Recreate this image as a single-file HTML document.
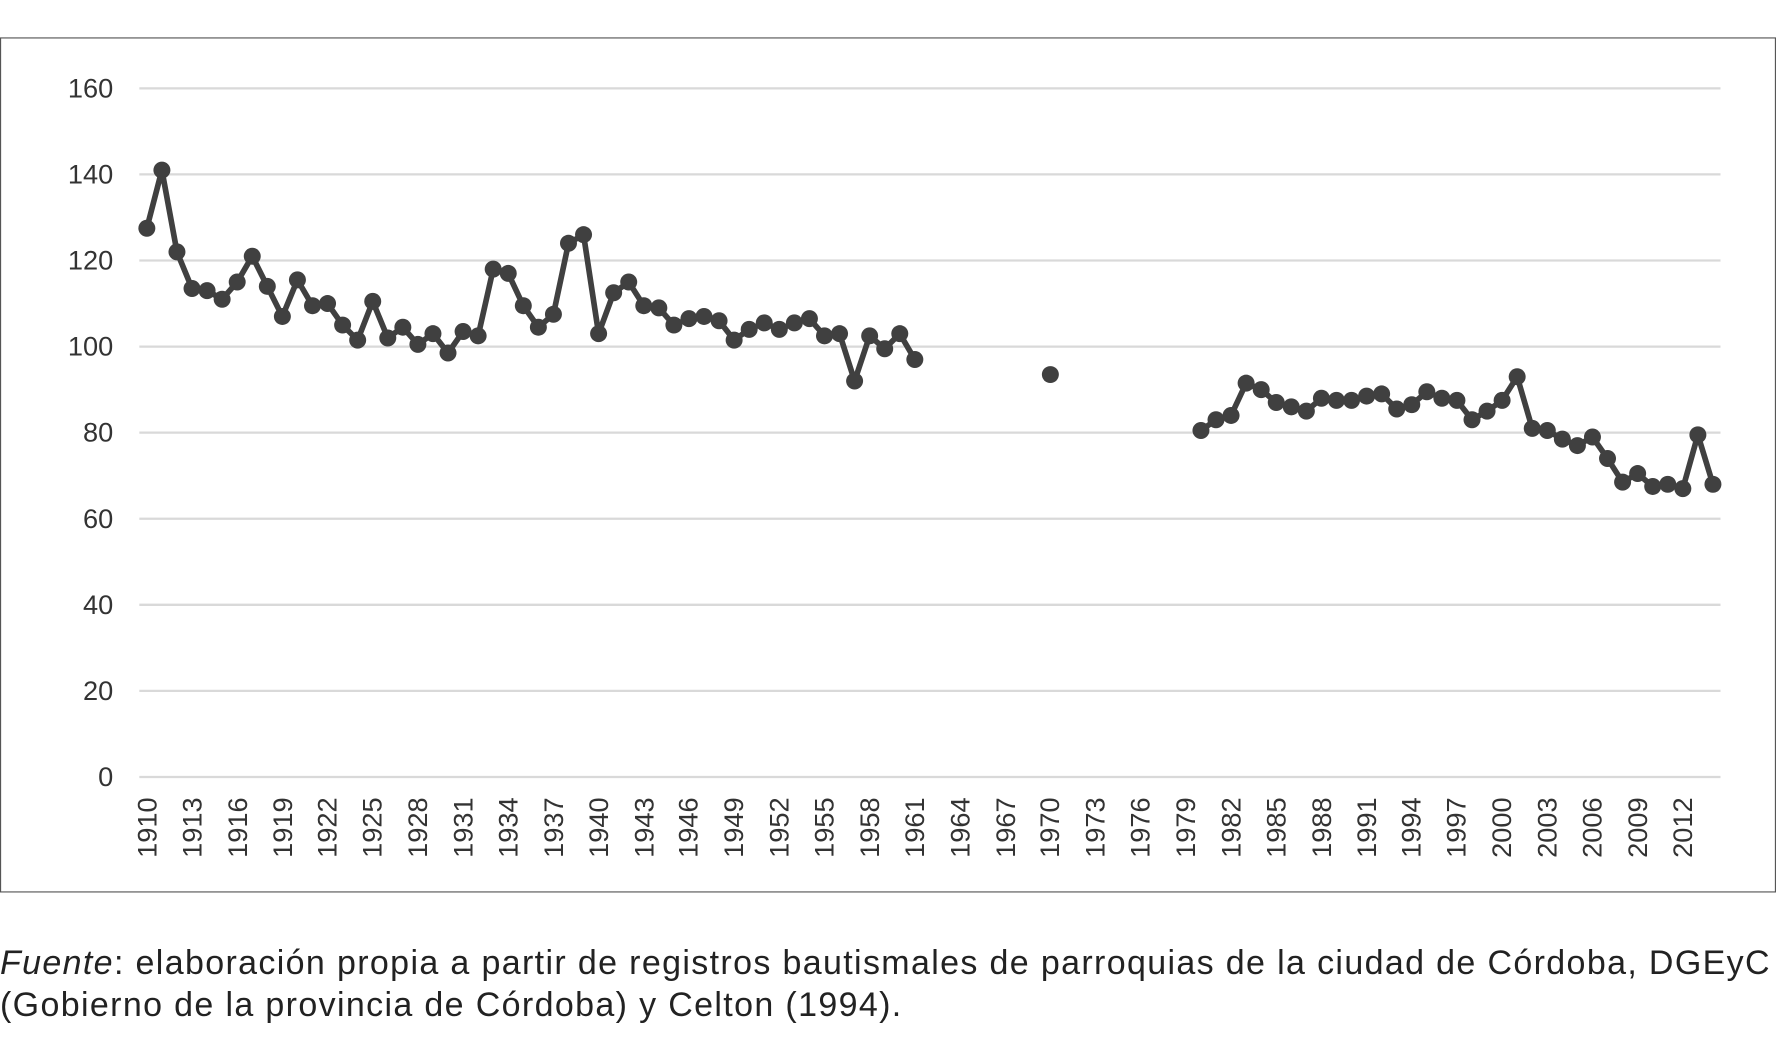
<!DOCTYPE html>
<html><head><meta charset="utf-8"><style>
html,body{margin:0;padding:0;background:#fff;width:1776px;height:1059px;overflow:hidden}
#w{transform:scale(1.13265,1.13262);transform-origin:0 0;width:1568px;height:935px;position:relative}
svg{position:absolute;left:0;top:0}
.t{font-family:"Liberation Sans",sans-serif;font-size:24px;fill:#333}
.cap{position:absolute;left:0;top:832px;font-family:"Liberation Sans",sans-serif;font-size:30px;line-height:37px;color:#222;white-space:nowrap;letter-spacing:1.2px}
</style></head><body><div id="w">
<svg width="1568" height="935" viewBox="0 0 1568 935">
<rect x="0.5" y="33.5" width="1567" height="754" fill="#fff" stroke="#555" stroke-width="1"/>
<g stroke="#d9d9d9" stroke-width="2">
<line x1="123" x2="1519" y1="78" y2="78"/><line x1="123" x2="1519" y1="154" y2="154"/>
<line x1="123" x2="1519" y1="230" y2="230"/><line x1="123" x2="1519" y1="306" y2="306"/>
<line x1="123" x2="1519" y1="382" y2="382"/><line x1="123" x2="1519" y1="458" y2="458"/>
<line x1="123" x2="1519" y1="534" y2="534"/><line x1="123" x2="1519" y1="610" y2="610"/>
<line x1="123" x2="1519" y1="686" y2="686"/></g>
<g class="t" text-anchor="end">
<text x="100" y="86">160</text><text x="100" y="162">140</text><text x="100" y="238">120</text>
<text x="100" y="314">100</text><text x="100" y="390">80</text><text x="100" y="466">60</text>
<text x="100" y="542">40</text><text x="100" y="618">20</text><text x="100" y="694">0</text></g>
<g class="t" text-anchor="end">
<text transform="translate(138,704) rotate(-90)">1910</text>
<text transform="translate(178,704) rotate(-90)">1913</text>
<text transform="translate(218,704) rotate(-90)">1916</text>
<text transform="translate(258,704) rotate(-90)">1919</text>
<text transform="translate(297,704) rotate(-90)">1922</text>
<text transform="translate(337,704) rotate(-90)">1925</text>
<text transform="translate(377,704) rotate(-90)">1928</text>
<text transform="translate(417,704) rotate(-90)">1931</text>
<text transform="translate(457,704) rotate(-90)">1934</text>
<text transform="translate(497,704) rotate(-90)">1937</text>
<text transform="translate(537,704) rotate(-90)">1940</text>
<text transform="translate(577,704) rotate(-90)">1943</text>
<text transform="translate(616,704) rotate(-90)">1946</text>
<text transform="translate(656,704) rotate(-90)">1949</text>
<text transform="translate(696,704) rotate(-90)">1952</text>
<text transform="translate(736,704) rotate(-90)">1955</text>
<text transform="translate(776,704) rotate(-90)">1958</text>
<text transform="translate(816,704) rotate(-90)">1961</text>
<text transform="translate(856,704) rotate(-90)">1964</text>
<text transform="translate(896,704) rotate(-90)">1967</text>
<text transform="translate(935,704) rotate(-90)">1970</text>
<text transform="translate(975,704) rotate(-90)">1973</text>
<text transform="translate(1015,704) rotate(-90)">1976</text>
<text transform="translate(1055,704) rotate(-90)">1979</text>
<text transform="translate(1095,704) rotate(-90)">1982</text>
<text transform="translate(1135,704) rotate(-90)">1985</text>
<text transform="translate(1175,704) rotate(-90)">1988</text>
<text transform="translate(1215,704) rotate(-90)">1991</text>
<text transform="translate(1254,704) rotate(-90)">1994</text>
<text transform="translate(1294,704) rotate(-90)">1997</text>
<text transform="translate(1334,704) rotate(-90)">2000</text>
<text transform="translate(1374,704) rotate(-90)">2003</text>
<text transform="translate(1414,704) rotate(-90)">2006</text>
<text transform="translate(1454,704) rotate(-90)">2009</text>
<text transform="translate(1494,704) rotate(-90)">2012</text>
</g>
<g id="series"></g>
</svg>
<div class="cap"><i>Fuente</i>: elaboración propia a partir de registros bautismales de parroquias de la ciudad de Córdoba, DGEyC<br>(Gobierno de la provincia de Córdoba) y Celton (1994).</div>
</div>
<script>
var segs=[[1910,[127.5,141,122,113.5,113,111,115,121,114,107,115.5,109.5,110,105,101.5,110.5,102,104.5,100.5,103,98.5,103.5,102.5,118,117,109.5,104.5,107.5,124,126,103,112.5,115,109.5,109,105,106.5,107,106,101.5,104,105.5,104,105.5,106.5,102.5,103,92,102.5,99.5,103,97]],
[1970,[93.5]],
[1980,[80.5,83,84,91.5,90,87,86,85,88,87.5,87.5,88.5,89,85.5,86.5,89.5,88,87.5,83,85,87.5,93,81,80.5,78.5,77,79,74,68.5,70.5,67.5,68,67,79.5,68]]];
var ns="http://www.w3.org/2000/svg",g=document.getElementById("series");
segs.forEach(function(s){var pts=s[1].map(function(v,i){return [123+13.295*(s[0]-1910+i+0.5),686-3.8*v]});
if(pts.length>1){var p=document.createElementNS(ns,"polyline");p.setAttribute("points",pts.map(function(a){return a.join(",")}).join(" "));
p.setAttribute("fill","none");p.setAttribute("stroke","#404040");p.setAttribute("stroke-width","5");p.setAttribute("stroke-linejoin","round");g.appendChild(p);}
pts.forEach(function(a){var c=document.createElementNS(ns,"circle");c.setAttribute("cx",a[0]);c.setAttribute("cy",a[1]);c.setAttribute("r","7.5");c.setAttribute("fill","#404040");g.appendChild(c);});});
</script>
</body></html>
